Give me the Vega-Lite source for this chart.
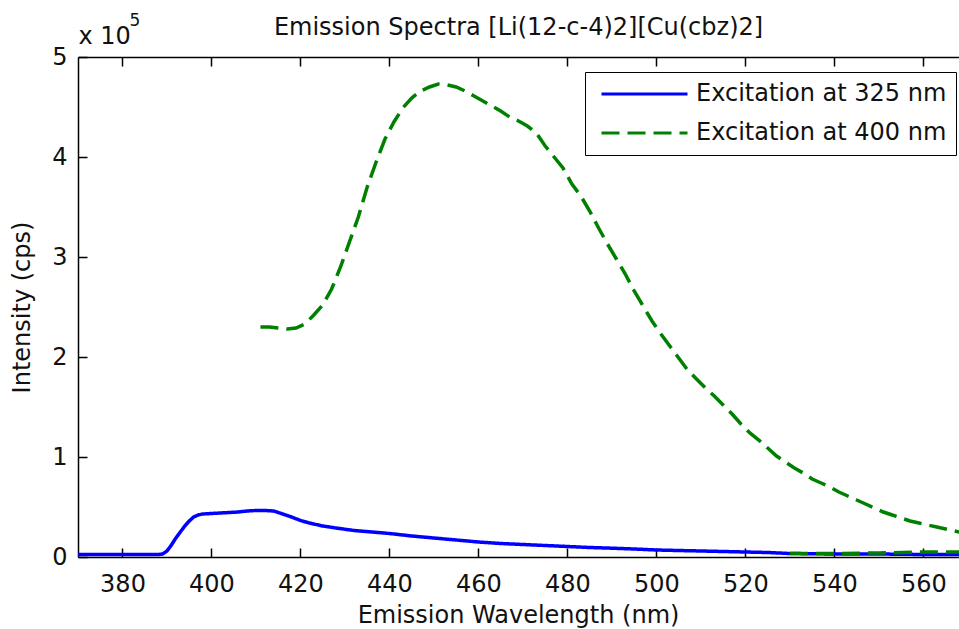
{
  "$schema": "https://vega.github.io/schema/vega-lite/v6.json",
  "width": 881,
  "height": 500,
  "autosize": {"type": "none"},
  "padding": {"left": 78, "top": 57, "right": 0, "bottom": 72},
  "background": "white",
  "config": {
    "view": {"stroke": null},
    "font": "DejaVu Sans",
    "axis": {
      "grid": false,
      "domainColor": "black",
      "domainWidth": 1.5,
      "tickColor": "black",
      "tickWidth": 1.5,
      "tickSize": -9,
      "labelFont": "DejaVu Sans",
      "labelFontSize": 24,
      "labelColor": "#111111",
      "titleFont": "DejaVu Sans",
      "titleFontSize": 24,
      "titleFontWeight": "normal",
      "titleColor": "#111111"
    }
  },
  "title": {
    "text": "Emission Spectra [Li(12-c-4)2][Cu(cbz)2]",
    "anchor": "middle",
    "frame": "group",
    "font": "DejaVu Sans",
    "fontSize": 24,
    "fontWeight": "normal",
    "color": "#111111",
    "offset": 6,
    "dy": 35
  },
  "data": {
    "values": [
      {"wl": 370, "I": 2500, "series": "Excitation at 325 nm", "seg": "a"},
      {"wl": 380, "I": 2500, "series": "Excitation at 325 nm", "seg": "a"},
      {"wl": 388, "I": 2500, "series": "Excitation at 325 nm", "seg": "a"},
      {"wl": 389, "I": 3000, "series": "Excitation at 325 nm", "seg": "a"},
      {"wl": 390, "I": 6000, "series": "Excitation at 325 nm", "seg": "a"},
      {"wl": 391, "I": 12000, "series": "Excitation at 325 nm", "seg": "a"},
      {"wl": 392, "I": 19000, "series": "Excitation at 325 nm", "seg": "a"},
      {"wl": 393, "I": 25000, "series": "Excitation at 325 nm", "seg": "a"},
      {"wl": 394, "I": 31000, "series": "Excitation at 325 nm", "seg": "a"},
      {"wl": 395, "I": 36000, "series": "Excitation at 325 nm", "seg": "a"},
      {"wl": 396, "I": 40000, "series": "Excitation at 325 nm", "seg": "a"},
      {"wl": 397, "I": 42000, "series": "Excitation at 325 nm", "seg": "a"},
      {"wl": 398, "I": 43000, "series": "Excitation at 325 nm", "seg": "a"},
      {"wl": 400, "I": 43500, "series": "Excitation at 325 nm", "seg": "a"},
      {"wl": 402, "I": 44000, "series": "Excitation at 325 nm", "seg": "a"},
      {"wl": 404, "I": 44500, "series": "Excitation at 325 nm", "seg": "a"},
      {"wl": 406, "I": 45000, "series": "Excitation at 325 nm", "seg": "a"},
      {"wl": 408, "I": 46000, "series": "Excitation at 325 nm", "seg": "a"},
      {"wl": 410, "I": 46500, "series": "Excitation at 325 nm", "seg": "a"},
      {"wl": 412, "I": 46500, "series": "Excitation at 325 nm", "seg": "a"},
      {"wl": 414, "I": 46000, "series": "Excitation at 325 nm", "seg": "a"},
      {"wl": 416, "I": 43000, "series": "Excitation at 325 nm", "seg": "a"},
      {"wl": 418, "I": 40000, "series": "Excitation at 325 nm", "seg": "a"},
      {"wl": 420, "I": 36500, "series": "Excitation at 325 nm", "seg": "a"},
      {"wl": 422, "I": 34000, "series": "Excitation at 325 nm", "seg": "a"},
      {"wl": 425, "I": 31000, "series": "Excitation at 325 nm", "seg": "a"},
      {"wl": 428, "I": 29000, "series": "Excitation at 325 nm", "seg": "a"},
      {"wl": 432, "I": 26500, "series": "Excitation at 325 nm", "seg": "a"},
      {"wl": 436, "I": 25000, "series": "Excitation at 325 nm", "seg": "a"},
      {"wl": 440, "I": 23500, "series": "Excitation at 325 nm", "seg": "a"},
      {"wl": 445, "I": 21000, "series": "Excitation at 325 nm", "seg": "a"},
      {"wl": 450, "I": 19000, "series": "Excitation at 325 nm", "seg": "a"},
      {"wl": 455, "I": 17000, "series": "Excitation at 325 nm", "seg": "a"},
      {"wl": 460, "I": 15000, "series": "Excitation at 325 nm", "seg": "a"},
      {"wl": 465, "I": 13500, "series": "Excitation at 325 nm", "seg": "a"},
      {"wl": 470, "I": 12500, "series": "Excitation at 325 nm", "seg": "a"},
      {"wl": 475, "I": 11500, "series": "Excitation at 325 nm", "seg": "a"},
      {"wl": 480, "I": 10500, "series": "Excitation at 325 nm", "seg": "a"},
      {"wl": 485, "I": 9500, "series": "Excitation at 325 nm", "seg": "a"},
      {"wl": 490, "I": 8800, "series": "Excitation at 325 nm", "seg": "a"},
      {"wl": 495, "I": 8000, "series": "Excitation at 325 nm", "seg": "a"},
      {"wl": 500, "I": 7000, "series": "Excitation at 325 nm", "seg": "a"},
      {"wl": 505, "I": 6500, "series": "Excitation at 325 nm", "seg": "a"},
      {"wl": 510, "I": 6000, "series": "Excitation at 325 nm", "seg": "a"},
      {"wl": 515, "I": 5500, "series": "Excitation at 325 nm", "seg": "a"},
      {"wl": 520, "I": 5000, "series": "Excitation at 325 nm", "seg": "a"},
      {"wl": 525, "I": 4500, "series": "Excitation at 325 nm", "seg": "a"},
      {"wl": 530, "I": 3500, "series": "Excitation at 325 nm", "seg": "a"},
      {"wl": 540, "I": 3000, "series": "Excitation at 325 nm", "seg": "a"},
      {"wl": 550, "I": 3000, "series": "Excitation at 325 nm", "seg": "a"},
      {"wl": 560, "I": 2500, "series": "Excitation at 325 nm", "seg": "a"},
      {"wl": 570, "I": 2500, "series": "Excitation at 325 nm", "seg": "a"},
      {"wl": 411, "I": 230000, "series": "Excitation at 400 nm", "seg": "b"},
      {"wl": 413, "I": 230000, "series": "Excitation at 400 nm", "seg": "b"},
      {"wl": 415, "I": 229000, "series": "Excitation at 400 nm", "seg": "b"},
      {"wl": 417, "I": 228000, "series": "Excitation at 400 nm", "seg": "b"},
      {"wl": 419, "I": 229000, "series": "Excitation at 400 nm", "seg": "b"},
      {"wl": 421, "I": 233000, "series": "Excitation at 400 nm", "seg": "b"},
      {"wl": 423, "I": 242000, "series": "Excitation at 400 nm", "seg": "b"},
      {"wl": 425, "I": 252000, "series": "Excitation at 400 nm", "seg": "b"},
      {"wl": 427, "I": 268000, "series": "Excitation at 400 nm", "seg": "b"},
      {"wl": 429, "I": 290000, "series": "Excitation at 400 nm", "seg": "b"},
      {"wl": 431, "I": 315000, "series": "Excitation at 400 nm", "seg": "b"},
      {"wl": 433, "I": 340000, "series": "Excitation at 400 nm", "seg": "b"},
      {"wl": 435, "I": 370000, "series": "Excitation at 400 nm", "seg": "b"},
      {"wl": 437, "I": 395000, "series": "Excitation at 400 nm", "seg": "b"},
      {"wl": 439, "I": 418000, "series": "Excitation at 400 nm", "seg": "b"},
      {"wl": 441, "I": 435000, "series": "Excitation at 400 nm", "seg": "b"},
      {"wl": 443, "I": 449000, "series": "Excitation at 400 nm", "seg": "b"},
      {"wl": 445, "I": 459000, "series": "Excitation at 400 nm", "seg": "b"},
      {"wl": 447, "I": 466000, "series": "Excitation at 400 nm", "seg": "b"},
      {"wl": 449, "I": 470000, "series": "Excitation at 400 nm", "seg": "b"},
      {"wl": 451, "I": 473000, "series": "Excitation at 400 nm", "seg": "b"},
      {"wl": 453, "I": 472000, "series": "Excitation at 400 nm", "seg": "b"},
      {"wl": 455, "I": 470000, "series": "Excitation at 400 nm", "seg": "b"},
      {"wl": 457, "I": 466000, "series": "Excitation at 400 nm", "seg": "b"},
      {"wl": 459, "I": 461000, "series": "Excitation at 400 nm", "seg": "b"},
      {"wl": 461, "I": 456000, "series": "Excitation at 400 nm", "seg": "b"},
      {"wl": 463, "I": 451000, "series": "Excitation at 400 nm", "seg": "b"},
      {"wl": 465, "I": 446000, "series": "Excitation at 400 nm", "seg": "b"},
      {"wl": 467, "I": 440000, "series": "Excitation at 400 nm", "seg": "b"},
      {"wl": 469, "I": 436000, "series": "Excitation at 400 nm", "seg": "b"},
      {"wl": 471, "I": 431000, "series": "Excitation at 400 nm", "seg": "b"},
      {"wl": 473, "I": 424000, "series": "Excitation at 400 nm", "seg": "b"},
      {"wl": 475, "I": 411000, "series": "Excitation at 400 nm", "seg": "b"},
      {"wl": 477, "I": 400000, "series": "Excitation at 400 nm", "seg": "b"},
      {"wl": 479, "I": 389000, "series": "Excitation at 400 nm", "seg": "b"},
      {"wl": 481, "I": 373000, "series": "Excitation at 400 nm", "seg": "b"},
      {"wl": 483, "I": 361000, "series": "Excitation at 400 nm", "seg": "b"},
      {"wl": 485, "I": 346000, "series": "Excitation at 400 nm", "seg": "b"},
      {"wl": 487, "I": 329000, "series": "Excitation at 400 nm", "seg": "b"},
      {"wl": 489, "I": 313000, "series": "Excitation at 400 nm", "seg": "b"},
      {"wl": 491, "I": 298000, "series": "Excitation at 400 nm", "seg": "b"},
      {"wl": 493, "I": 283000, "series": "Excitation at 400 nm", "seg": "b"},
      {"wl": 495, "I": 266000, "series": "Excitation at 400 nm", "seg": "b"},
      {"wl": 497, "I": 251000, "series": "Excitation at 400 nm", "seg": "b"},
      {"wl": 499, "I": 236000, "series": "Excitation at 400 nm", "seg": "b"},
      {"wl": 501, "I": 223000, "series": "Excitation at 400 nm", "seg": "b"},
      {"wl": 503, "I": 211000, "series": "Excitation at 400 nm", "seg": "b"},
      {"wl": 505, "I": 199000, "series": "Excitation at 400 nm", "seg": "b"},
      {"wl": 507, "I": 187000, "series": "Excitation at 400 nm", "seg": "b"},
      {"wl": 509, "I": 178000, "series": "Excitation at 400 nm", "seg": "b"},
      {"wl": 511, "I": 169000, "series": "Excitation at 400 nm", "seg": "b"},
      {"wl": 513, "I": 161000, "series": "Excitation at 400 nm", "seg": "b"},
      {"wl": 515, "I": 152000, "series": "Excitation at 400 nm", "seg": "b"},
      {"wl": 517, "I": 143000, "series": "Excitation at 400 nm", "seg": "b"},
      {"wl": 519, "I": 133000, "series": "Excitation at 400 nm", "seg": "b"},
      {"wl": 521, "I": 124000, "series": "Excitation at 400 nm", "seg": "b"},
      {"wl": 523, "I": 117000, "series": "Excitation at 400 nm", "seg": "b"},
      {"wl": 525, "I": 109000, "series": "Excitation at 400 nm", "seg": "b"},
      {"wl": 527, "I": 101000, "series": "Excitation at 400 nm", "seg": "b"},
      {"wl": 529, "I": 95000, "series": "Excitation at 400 nm", "seg": "b"},
      {"wl": 531, "I": 89000, "series": "Excitation at 400 nm", "seg": "b"},
      {"wl": 533, "I": 84000, "series": "Excitation at 400 nm", "seg": "b"},
      {"wl": 535, "I": 78000, "series": "Excitation at 400 nm", "seg": "b"},
      {"wl": 537, "I": 74000, "series": "Excitation at 400 nm", "seg": "b"},
      {"wl": 539, "I": 70000, "series": "Excitation at 400 nm", "seg": "b"},
      {"wl": 541, "I": 65000, "series": "Excitation at 400 nm", "seg": "b"},
      {"wl": 543, "I": 61000, "series": "Excitation at 400 nm", "seg": "b"},
      {"wl": 545, "I": 57000, "series": "Excitation at 400 nm", "seg": "b"},
      {"wl": 547, "I": 53000, "series": "Excitation at 400 nm", "seg": "b"},
      {"wl": 549, "I": 49000, "series": "Excitation at 400 nm", "seg": "b"},
      {"wl": 551, "I": 45000, "series": "Excitation at 400 nm", "seg": "b"},
      {"wl": 553, "I": 42000, "series": "Excitation at 400 nm", "seg": "b"},
      {"wl": 555, "I": 39000, "series": "Excitation at 400 nm", "seg": "b"},
      {"wl": 557, "I": 36000, "series": "Excitation at 400 nm", "seg": "b"},
      {"wl": 559, "I": 34000, "series": "Excitation at 400 nm", "seg": "b"},
      {"wl": 561, "I": 32000, "series": "Excitation at 400 nm", "seg": "b"},
      {"wl": 563, "I": 30000, "series": "Excitation at 400 nm", "seg": "b"},
      {"wl": 565, "I": 28000, "series": "Excitation at 400 nm", "seg": "b"},
      {"wl": 567, "I": 26000, "series": "Excitation at 400 nm", "seg": "b"},
      {"wl": 569, "I": 24000, "series": "Excitation at 400 nm", "seg": "b"},
      {"wl": 530, "I": 3500, "series": "Excitation at 400 nm", "seg": "c"},
      {"wl": 540, "I": 3500, "series": "Excitation at 400 nm", "seg": "c"},
      {"wl": 550, "I": 4000, "series": "Excitation at 400 nm", "seg": "c"},
      {"wl": 560, "I": 5000, "series": "Excitation at 400 nm", "seg": "c"},
      {"wl": 570, "I": 5000, "series": "Excitation at 400 nm", "seg": "c"}
    ]
  },
  "resolve": {"axis": {"x": "independent", "y": "independent"}},
  "layer": [
    {
      "mark": {"type": "line", "strokeWidth": 3.5, "clip": true, "strokeCap": "butt"},
      "encoding": {
        "x": {
          "field": "wl", "type": "quantitative",
          "scale": {"domain": [370, 568], "nice": false, "zero": false},
          "axis": {
            "orient": "bottom",
            "values": [380, 400, 420, 440, 460, 480, 500, 520, 540, 560],
            "labelPadding": 24,
            "title": "Emission Wavelength (nm)",
            "titlePadding": 7,
            "titleX": 440
          }
        },
        "y": {
          "field": "I", "type": "quantitative",
          "scale": {"domain": [0, 500000], "nice": false},
          "axis": {
            "values": [0, 100000, 200000, 300000, 400000, 500000],
            "labelExpr": "datum.value / 100000",
            "labelPadding": 20,
            "title": "Intensity (cps)",
            "titlePadding": 17
          }
        },
        "color": {
          "field": "series", "type": "nominal",
          "scale": {"domain": ["Excitation at 325 nm", "Excitation at 400 nm"], "range": ["#0000ff", "#008000"]},
          "legend": {
            "title": null,
            "orient": "none",
            "legendX": 507,
            "legendY": 15,
            "strokeColor": "black",
            "fillColor": "white",
            "padding": 9,
            "symbolOffset": 6,
            "clipHeight": 26,
            "symbolType": "stroke",
            "symbolSize": 7396,
            "symbolStrokeWidth": 3,
            "labelFontSize": 24,
            "labelFont": "DejaVu Sans",
            "labelColor": "#111111",
            "labelLimit": 400,
            "labelOffset": 7,
            "rowPadding": 13
          }
        },
        "strokeDash": {
          "field": "series", "type": "nominal",
          "scale": {"domain": ["Excitation at 325 nm", "Excitation at 400 nm"], "range": [[1, 0], [18, 8]]},
          "legend": {
            "title": null,
            "orient": "none",
            "legendX": 507,
            "legendY": 15,
            "strokeColor": "black",
            "fillColor": "white",
            "padding": 9,
            "symbolOffset": 6,
            "clipHeight": 26,
            "symbolType": "stroke",
            "symbolSize": 7396,
            "symbolStrokeWidth": 3,
            "labelFontSize": 24,
            "labelFont": "DejaVu Sans",
            "labelColor": "#111111",
            "labelLimit": 400,
            "labelOffset": 7,
            "rowPadding": 13
          }
        },
        "detail": {"field": "seg", "type": "nominal"}
      }
    },
    {
      "mark": {"type": "point", "opacity": 0},
      "encoding": {
        "x": {
          "field": "wl", "type": "quantitative",
          "scale": {"domain": [370, 568], "nice": false, "zero": false},
          "axis": {
            "orient": "top",
            "values": [380, 400, 420, 440, 460, 480, 500, 520, 540, 560],
            "labels": false,
            "title": "x 10",
            "titleAngle": 0,
            "titleAlign": "left",
            "titleBaseline": "alphabetic",
            "titleX": 0,
            "titleY": -14
          }
        },
        "y": {
          "field": "I", "type": "quantitative",
          "axis": {
            "orient": "left",
            "domain": false,
            "ticks": false,
            "labels": false,
            "title": "5",
            "titleFontSize": 17,
            "titleAngle": 0,
            "titleAlign": "left",
            "titleBaseline": "alphabetic",
            "titleX": 51,
            "titleY": -32
          }
        }
      }
    }
  ]
}
